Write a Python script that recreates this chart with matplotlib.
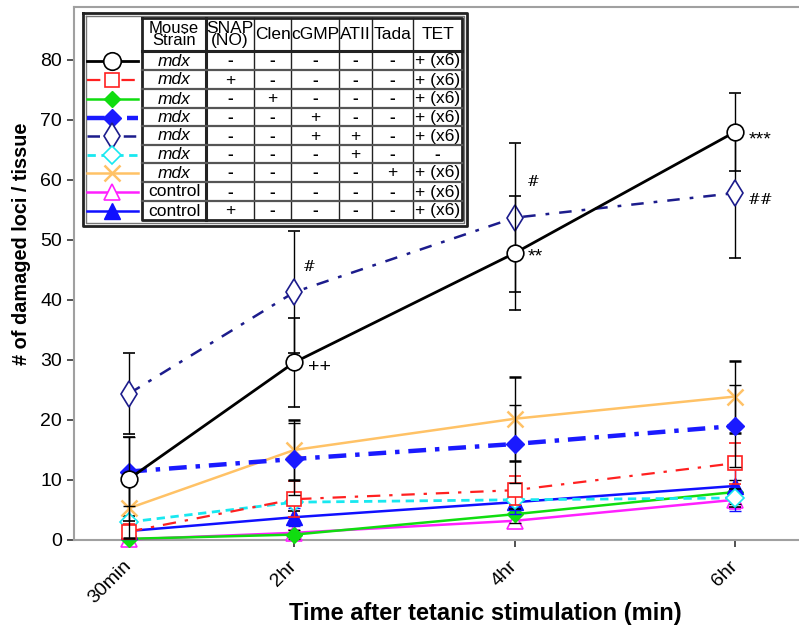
import matplotlib.pyplot as plt
import numpy as np

plt.rcParams['font.family'] = ['Liberation Sans', 'DejaVu Sans']

# time points (hours) and labels
times = [0.5, 2, 4, 6]
time_labels = ['30min', '2hr', '4hr', '6hr']

# series values, legend order
mdx_tet = [10.2, 29.6, 47.8, 68.0]
mdx_snap = [1.4, 6.8, 8.3, 12.8]
mdx_clen = [0.2, 0.9, 4.3, 8.0]
mdx_cgmp = [11.4, 13.5, 16.0, 19.0]
mdx_cgmp_atii = [24.4, 41.3, 53.7, 57.8]
mdx_atii = [3.0, 6.3, 6.7, 7.0]
mdx_tada = [5.3, 15.0, 20.2, 23.9]
ctrl_tet = [0.1, 1.2, 3.2, 6.7]
ctrl_snap = [1.5, 3.8, 6.3, 9.0]

# error bars
err_tet = [7.0, 7.4, 9.5, 6.5]
err_snap = [1.2, 3.0, 2.4, 3.4]
err_clen = [0.2, 0.8, 1.5, 2.0]
err_cgmp = [5.8, 6.0, 6.5, 6.8]
err_cgmp_atii = [6.8, 10.2, 12.4, 10.8]
err_atii = [1.0, 1.5, 1.5, 1.5]
err_tada = [5.0, 5.0, 7.0, 6.0]
err_ctrl_tet = [0.1, 0.5, 1.0, 1.5]
err_ctrl_snap = [1.0, 1.5, 2.0, 4.2]

strains = ['mdx'] * 7 + ['control'] * 2
treat_cols = ['SNAP\n(NO)', 'Clen', 'cGMP', 'ATII', 'Tada', 'TET']
treat_rows = [
    ['-', '-', '-', '-', '-', '+ (x6)'],
    ['+', '-', '-', '-', '-', '+ (x6)'],
    ['-', '+', '-', '-', '-', '+ (x6)'],
    ['-', '-', '+', '-', '-', '+ (x6)'],
    ['-', '-', '+', '+', '-', '+ (x6)'],
    ['-', '-', '-', '+', '-', '-'],
    ['-', '-', '-', '-', '+', '+ (x6)'],
    ['-', '-', '-', '-', '-', '+ (x6)'],
    ['+', '-', '-', '-', '-', '+ (x6)'],
]

series = [
    (mdx_tet, err_tet, dict(color='black', ls='-', lw=2.0, marker='o', ms=12, mfc='white', mec='black', mew=1.2), 'black'),
    (mdx_snap, err_snap, dict(color='#ff2020', ls=(0, (6, 4, 1.5, 4)), lw=1.6, marker='s', ms=10, mfc='white', mec='#ff2020', mew=1.2), '#ff2020'),
    (mdx_clen, err_clen, dict(color='#10dd10', ls='-', lw=1.8, marker='D', ms=8, mfc='#10dd10', mec='#10dd10'), 'black'),
    (mdx_cgmp, err_cgmp, dict(color='#1a1aff', ls=(0, (4, 2, 1, 2)), lw=3.2, marker='D', ms=9, mfc='#1a1aff', mec='#1a1aff'), 'black'),
    (mdx_cgmp_atii, err_cgmp_atii, dict(color='#1c1c8c', ls=(0, (5, 4, 1.5, 4)), lw=1.8, marker='d', ms=13, mfc='white', mec='#1c1c8c', mew=1.2), 'black'),
    (mdx_atii, err_atii, dict(color='#18e8f0', ls=(0, (3, 2)), lw=2.0, marker='D', ms=9, mfc='white', mec='#18e8f0', mew=1.2), 'black'),
    (mdx_tada, err_tada, dict(color='#ffc266', ls='-', lw=1.8, marker='x', ms=11, mew=1.8, mec='#ffc266'), 'black'),
    (ctrl_tet, err_ctrl_tet, dict(color='#ff20ff', ls='-', lw=1.8, marker='^', ms=11, mfc='white', mec='#ff20ff', mew=1.2), '#ff20ff'),
    (ctrl_snap, err_ctrl_snap, dict(color='#1010ff', ls='-', lw=1.8, marker='^', ms=11, mfc='#1010ff', mec='#1010ff'), '#1010ff'),
]

W, H = 799, 626
fig = plt.figure(figsize=(W / 100, H / 100), dpi=100)
ax = fig.add_axes([74 / W, (H - 540) / H, 1 - 74 / W, (540 - 7) / H])

order = [7, 2, 8, 5, 1, 6, 3, 4, 0]
for k, idx in enumerate(order):
    vals, err, st, ecol = series[idx]
    ax.errorbar(times, vals, yerr=err, ecolor=ecol, elinewidth=1.0, capsize=4,
                capthick=1.0, clip_on=False, zorder=3 + k, **st)

ax.set_xlim(0, 6.58)
ax.set_ylim(0, 88.8)
ax.set_yticks(range(0, 81, 10))
ax.set_xticks(times)
ax.set_xticklabels(time_labels, rotation=45, ha='right', va='center', rotation_mode='anchor')
ax.tick_params(axis='both', labelsize=14, direction='out', length=5, width=1.2, color='#333333')
ax.tick_params(axis='x', pad=12)
for s in ['left', 'top', 'bottom']:
    ax.spines[s].set_color('#a0a0a0')
    ax.spines[s].set_linewidth(1.5)
ax.spines['right'].set_visible(False)

ax.set_ylabel('# of damaged loci / tissue', fontsize=14.3, fontweight='bold', va='center')
ax.yaxis.set_label_coords(-0.073, 0.556)
ax.set_xlabel('Time after tetanic stimulation (min)', fontsize=17, fontweight='bold', va='center')
ax.xaxis.set_label_coords(0.567, -0.137)

# significance marks
ax.text(2.12, 28.8, '++', fontsize=14, ha='left', va='center')
ax.text(4.12, 47.2, '**', fontsize=14, ha='left', va='center')
ax.text(6.12, 66.6, '***', fontsize=14, ha='left', va='center')
ax.text(2.08, 45.5, '#', fontsize=11, family='DejaVu Serif', ha='left', va='center')
ax.text(4.11, 59.7, '#', fontsize=11, family='DejaVu Serif', ha='left', va='center')
ax.text(6.12, 56.7, '##', fontsize=11, family='DejaVu Serif', ha='left', va='center')

# legend table drawn in pixel coordinates
lg = fig.add_axes([0, 0, 1, 1], facecolor='none')
lg.set_xlim(0, W)
lg.set_ylim(H, 0)
lg.axis('off')

bx0, by0, bx1, by1 = 83, 13, 467, 226
lg.fill([bx0, bx1, bx1, bx0], [by0, by0, by1, by1], color='white', zorder=1)
lg.plot([bx0, bx1, bx1, bx0, bx0], [by0, by0, by1, by1, by0], color='#222222', lw=2.0, zorder=2)
lg.plot([bx0 + 3, bx1 - 3, bx1 - 3, bx0 + 3, bx0 + 3],
        [by0 + 3, by0 + 3, by1 - 3, by1 - 3, by0 + 3], color='#777777', lw=1.0, zorder=2)

col_x = [142, 206, 254, 291, 339, 372, 413, 462]
row_y = [18, 51, 70, 89, 108, 126, 145, 163, 182, 201, 220]
tx0, ty0, tx1, ty1 = col_x[0], row_y[0], col_x[-1], row_y[-1]
lg.plot([tx0, tx1, tx1, tx0, tx0], [ty0, ty0, ty1, ty1, ty0], color='#222222', lw=2.0, zorder=2)
for x in col_x[1:-1]:
    lw = 2.2 if x == col_x[1] else 1.0
    lg.plot([x, x], [ty0, ty1], color='#222222', lw=lw, zorder=2)
lg.plot([tx0, tx1], [row_y[1], row_y[1]], color='#222222', lw=2.2, zorder=2)
for y in row_y[2:-1]:
    lg.plot([tx0, tx1], [y, y], color='#555555', lw=1.6, zorder=2)

col_cx = [(col_x[i] + col_x[i + 1]) / 2 for i in range(len(col_x) - 1)]
hy = (row_y[0] + row_y[1]) / 2
lg.text(col_cx[0], hy, 'Mouse\nStrain', fontsize=12, ha='center', va='center', linespacing=0.75, zorder=3)
for cx, name in zip(col_cx[1:], treat_cols):
    lg.text(cx, hy, name, fontsize=12.5, ha='center', va='center', linespacing=0.75, zorder=3)

for r in range(len(strains)):
    cy = (row_y[r + 1] + row_y[r + 2]) / 2 + 0.5
    lg.text(col_cx[0], cy, strains[r], fontsize=12.5, ha='center', va='center',
            style='italic' if strains[r] == 'mdx' else 'normal', zorder=3)
    for c, v in enumerate(treat_rows[r]):
        lg.text(col_cx[c + 1], cy, v, fontsize=12.5, ha='center', va='center',
                fontweight='bold' if v == '-' else 'normal', zorder=3)
    st = dict(series[r][2])
    lg.plot([87, 138], [cy, cy], zorder=3, **{k: v for k, v in st.items() if k not in ('marker', 'ms', 'mfc', 'mec', 'mew')})
    lg.plot([112], [cy], zorder=4, ls='none', **{k: v for k, v in st.items() if k in ('marker', 'mfc', 'mec', 'mew', 'color')},
            ms=st['ms'] * 1.05)

fig.savefig('out.png', dpi=100)
